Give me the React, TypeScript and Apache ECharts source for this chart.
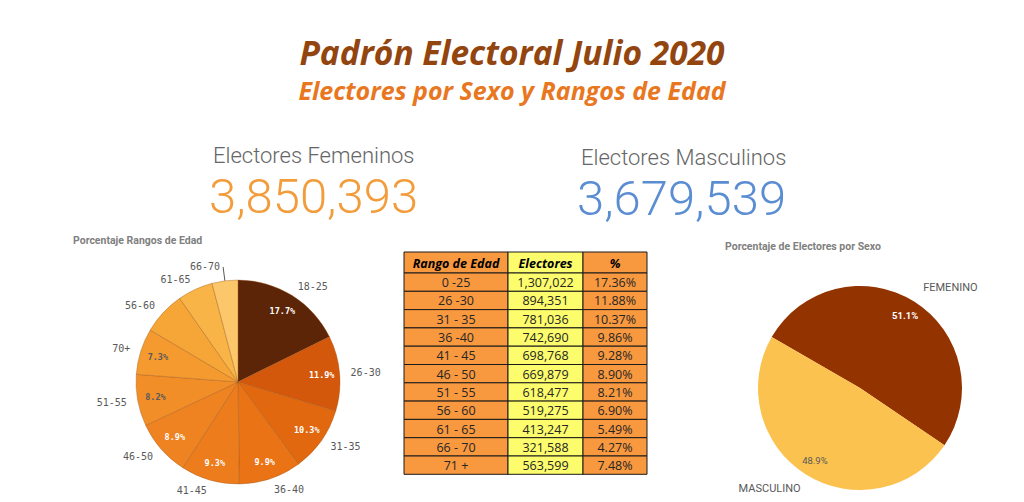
import React, { useEffect, useRef } from "react";
import * as echarts from "echarts";

// ---------- data ----------
const mainTitle = "Padrón Electoral Julio 2020";
const subTitle = "Electores por Sexo y Rangos de Edad";

const sexNames = ["FEMENINO", "MASCULINO"];
const sexLabels = ["Electores Femeninos", "Electores Masculinos"];
const sexCounts = [3850393, 3679539];
const sexColors = ["#933300", "#fcc24f"];
const sexPctColors = ["#ffffff", "#595959"];

const ageSlices = ["18-25", "26-30", "31-35", "36-40", "41-45", "46-50", "51-55", "70+", "56-60", "61-65", "66-70"];
const agePct = [17.7, 11.9, 10.3, 9.9, 9.3, 8.9, 8.2, 7.3, 6.8, 5.6, 4.1];
const ageColors = ["#5c2508", "#d3580b", "#e2680f", "#ea7316", "#ed7c1d", "#ef8322", "#f18e28", "#f49a2f", "#f6a537", "#f9b447", "#fcc66a"];
const agePctShown = [true, true, true, true, true, true, true, true, false, false, false];
const agePctColors = ["#ffffff", "#ffffff", "#ffffff", "#ffffff", "#ffffff", "#ffffff", "#595959", "#595959", "#595959", "#595959", "#595959"];
const ageLineLabel = "66-70";

const tableHeaders = ["Rango de Edad", "Electores", "%"];
const tableRanges = ["0 -25", "26 -30", "31 - 35", "36 -40", "41 - 45", "46 - 50", "51 - 55", "56 - 60", "61 - 65", "66 - 70", "71 +"];
const tableElectors = [1307022, 894351, 781036, 742690, 698768, 669879, 618477, 519275, 413247, 321588, 563599];
const tablePct = [17.36, 11.88, 10.37, 9.86, 9.28, 8.9, 8.21, 6.9, 5.49, 4.27, 7.48];

// ---------- styles / layout ----------
const W = 1024;
const H = 502;
const ORANGE_CELL = "#f8983f";
const YELLOW_CELL = "#fcfc6c";
const TABLE_X = 404;
const TABLE_Y = 252;
const COL_W = [104, 75, 64];
const HEAD_H = 21;
const ROW_H = 18.3;
const TABLE_FONT = "'Open Sans', sans-serif";
const TITLE_FONT = "'Open Sans', sans-serif";
const MONO = "'DejaVu Sans Mono', monospace";

const fmt = (n: number) => n.toLocaleString("en-US");

function buildTable(): any[] {
  const els: any[] = [];
  const colX = [0, COL_W[0], COL_W[0] + COL_W[1]];
  const rows = 1 + tableRanges.length;
  for (let r = 0; r < rows; r++) {
    const y = TABLE_Y + (r === 0 ? 0 : HEAD_H + (r - 1) * ROW_H);
    const h = r === 0 ? HEAD_H : ROW_H;
    for (let c = 0; c < 3; c++) {
      const fill = c === 1 ? YELLOW_CELL : ORANGE_CELL;
      els.push({
        type: "rect",
        shape: { x: TABLE_X + colX[c], y, width: COL_W[c], height: h },
        style: { fill, stroke: "#1a1a1a", lineWidth: 1 },
        silent: true,
      });
      let text = "";
      if (r === 0) text = tableHeaders[c];
      else if (c === 0) text = tableRanges[r - 1];
      else if (c === 1) text = fmt(tableElectors[r - 1]);
      else text = tablePct[r - 1].toFixed(2) + "%";
      els.push({
        type: "text",
        x: TABLE_X + colX[c] + COL_W[c] / 2,
        y: y + h / 2 + 0.5,
        silent: true,
        style: {
          text,
          align: "center",
          verticalAlign: "middle",
          fill: r === 0 ? "#000000" : "#262626",
          fontFamily: TABLE_FONT,
          fontSize: 12.5,
          fontWeight: r === 0 ? "bold" : "normal",
          fontStyle: r === 0 ? "italic" : "normal",
        },
      });
    }
  }
  return els;
}

function buildTexts(): any[] {
  return [
    {
      type: "text", x: W / 2, y: 52, silent: true,
      style: { text: mainTitle, align: "center", verticalAlign: "middle", fill: "#93450f", fontFamily: TITLE_FONT, fontSize: 33.5, fontWeight: "bold", fontStyle: "italic" },
    },
    {
      type: "text", x: W / 2, y: 90, silent: true,
      style: { text: subTitle, align: "center", verticalAlign: "middle", fill: "#e8771f", fontFamily: TITLE_FONT, fontSize: 25, fontWeight: "bold", fontStyle: "italic" },
    },
    {
      type: "text", x: 213, y: 155, silent: true,
      style: { text: sexLabels[0], align: "left", verticalAlign: "middle", fill: "#666666", fontFamily: "Roboto", fontSize: 22, fontWeight: 300 },
    },
    {
      type: "text", x: 209, y: 196, silent: true,
      style: { text: fmt(sexCounts[0]), align: "left", verticalAlign: "middle", fill: "#f39c3c", fontFamily: "Roboto", fontSize: 49, fontWeight: 300 },
    },
    {
      type: "text", x: 581, y: 157, silent: true,
      style: { text: sexLabels[1], align: "left", verticalAlign: "middle", fill: "#666666", fontFamily: "Roboto", fontSize: 22, fontWeight: 300 },
    },
    {
      type: "text", x: 577, y: 198, silent: true,
      style: { text: fmt(sexCounts[1]), align: "left", verticalAlign: "middle", fill: "#5a8dd2", fontFamily: "Roboto", fontSize: 49, fontWeight: 300 },
    },
    {
      type: "text", x: 73, y: 240, silent: true,
      style: { text: "Porcentaje Rangos de Edad", align: "left", verticalAlign: "middle", fill: "#808080", fontFamily: "Roboto", fontSize: 10.5, fontWeight: "bold" },
    },
    {
      type: "text", x: 725, y: 246, silent: true,
      style: { text: "Porcentaje de Electores por Sexo", align: "left", verticalAlign: "middle", fill: "#808080", fontFamily: "Roboto", fontSize: 10.5, fontWeight: "bold" },
    },
  ];
}

export default function App() {
  const ref = useRef<HTMLDivElement>(null);
  useEffect(() => {
    document.body.style.margin = "0";
    const chart = echarts.init(ref.current!, undefined, { renderer: "svg" });
    const LC: [number, number] = [238, 382];
    const RC: [number, number] = [860, 388];
    const R = 102;
    const transparent = { color: "rgba(0,0,0,0)", borderWidth: 0 };

    const ageMain = ageSlices.map((name, i) => {
      const isLine = name === ageLineLabel;
      return {
        name,
        value: agePct[i],
        itemStyle: { color: ageColors[i] },
        labelLine: isLine
          ? { show: true, length: 14, length2: 0, lineStyle: { color: "#595959", width: 1 } }
          : { show: false, length: 11, length2: 0 },
        label: { distanceToLabelLine: isLine ? 3 : 0 },
      };
    });

    const option: any = {
      animation: false,
      backgroundColor: "#ffffff",
      graphic: { elements: [...buildTexts(), ...buildTable()] },
      series: [
        {
          type: "pie",
          center: LC,
          radius: [0, R],
          startAngle: 90,
          clockwise: true,
          avoidLabelOverlap: false,
          silent: true,
          itemStyle: { borderColor: "rgba(150,80,20,0.45)", borderWidth: 0.8 },
          label: { show: true, position: "outside", formatter: "{b}", color: "#595959", fontFamily: MONO, fontSize: 10 },
          data: ageMain,
        },
        {
          type: "pie",
          center: LC,
          radius: [60, R],
          startAngle: 90,
          clockwise: true,
          silent: true,
          itemStyle: transparent,
          labelLine: { show: false },
          data: ageSlices.map((name, i) => ({
            name,
            value: agePct[i],
            label: {
              show: agePctShown[i],
              position: "inside",
              formatter: agePct[i].toFixed(1) + "%",
              color: agePctColors[i],
              fontFamily: MONO,
              fontSize: 8.5,
              fontWeight: "bold",
            },
          })),
        },
        {
          type: "pie",
          center: RC,
          radius: [0, R],
          startAngle: 150,
          clockwise: true,
          silent: true,
          label: { show: false },
          labelLine: { show: false },
          data: sexNames.map((name, i) => ({ name, value: sexCounts[i], itemStyle: { color: sexColors[i] } })),
        },
        {
          type: "pie",
          center: RC,
          radius: [62, R],
          startAngle: 150,
          clockwise: true,
          silent: true,
          percentPrecision: 1,
          itemStyle: transparent,
          labelLine: { show: false },
          data: sexNames.map((name, i) => ({
            name,
            value: sexCounts[i],
            label: {
              show: true,
              position: "inside",
              formatter: "{d}%",
              color: sexPctColors[i],
              fontFamily: "Roboto",
              fontSize: 9.5,
              fontWeight: i === 0 ? "bold" : "normal",
            },
          })),
        },
        {
          type: "pie",
          center: RC,
          radius: [126, 138],
          startAngle: 140,
          clockwise: true,
          silent: true,
          itemStyle: transparent,
          labelLine: { show: false },
          data: sexNames.map((name, i) => ({
            name,
            value: sexCounts[i],
            label: { show: true, position: "inside", formatter: "{b}", color: "#595959", fontFamily: "Roboto", fontSize: 11 },
          })),
        },
      ],
    };
    chart.setOption(option);
    return () => chart.dispose();
  }, []);
  return <div ref={ref} style={{ width: W, height: H }} />;
}
